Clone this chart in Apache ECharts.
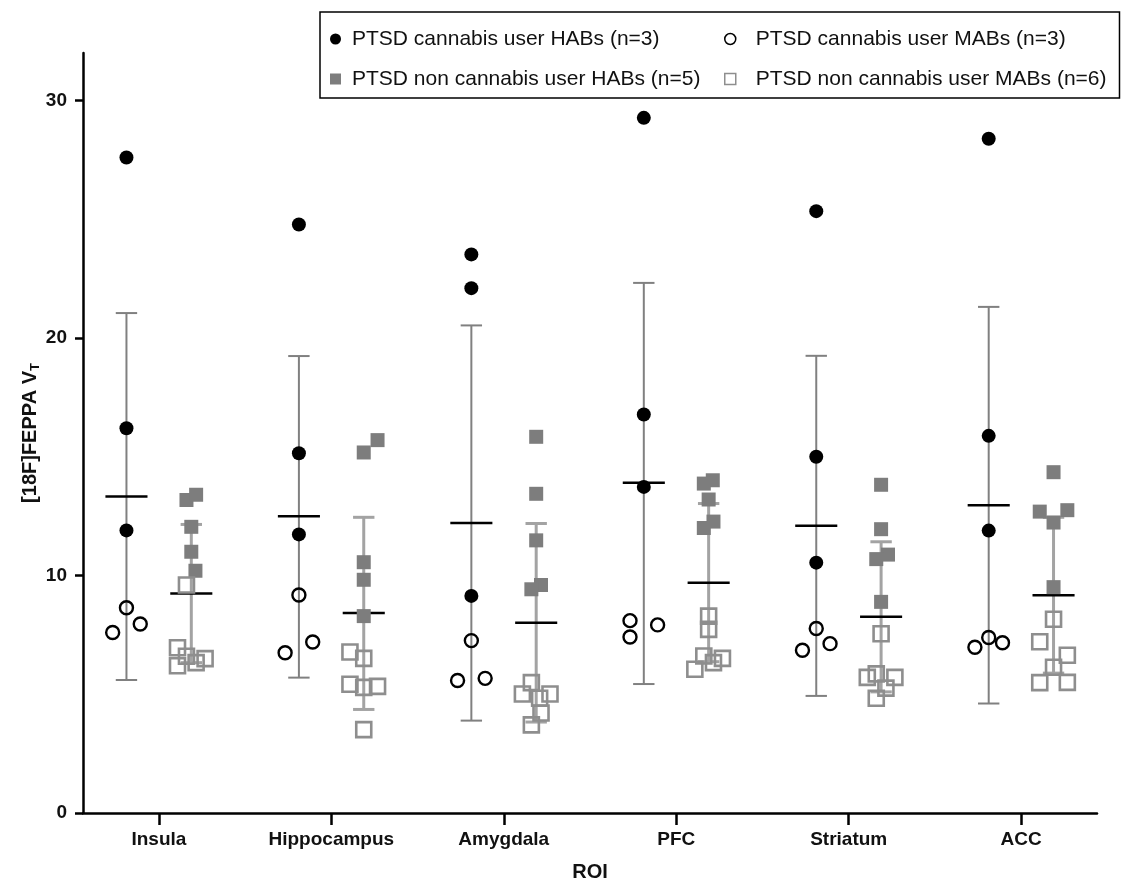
<!DOCTYPE html>
<html><head><meta charset="utf-8">
<script src="https://cdn.jsdelivr.net/npm/echarts@6/dist/echarts.min.js"></script>
<style>html,body{margin:0;padding:0;background:#fff}#c{width:1126px;height:881px}</style>
</head><body><div id="c"></div>
<script>
// ---------- data ----------
const categories = ['Insula', 'Hippocampus', 'Amygdala', 'PFC', 'Striatum', 'ACC'];
const yTicks = [0, 10, 20, 30];
const seriesNames = [
  'PTSD cannabis user HABs (n=3)',
  'PTSD cannabis user MABs (n=3)',
  'PTSD non cannabis user HABs (n=5)',
  'PTSD non cannabis user MABs (n=6)'
];
const cannabisHABs = [
  [27.6, 16.2, 11.9],
  [24.78, 15.15, 11.73],
  [23.52, 22.1, 9.14],
  [29.27, 16.78, 13.73],
  [25.34, 15.0, 10.54],
  [28.39, 15.88, 11.89]
];
const cannabisMABs = [
  [8.64, 7.96, 7.6],
  [9.18, 7.2, 6.75],
  [7.26, 5.58, 5.67],
  [8.1, 7.41, 7.92],
  [7.77, 7.13, 6.85],
  [7.39, 7.17, 6.98]
];
const nonCannabisHABs = [
  [13.18, 13.4, 12.05, 11.0, 10.2],
  [15.18, 15.7, 10.56, 9.82, 8.29],
  [15.84, 13.44, 11.48, 9.6, 9.42],
  [14.01, 13.87, 13.2, 12.27, 12.0],
  [13.82, 11.95, 10.88, 10.69, 8.89],
  [14.35, 12.69, 12.75, 12.23, 9.51]
];
const nonCannabisMABs = [
  [9.6, 6.96, 6.6, 6.5, 6.33, 6.2],
  [6.78, 6.51, 5.42, 5.29, 5.33, 3.51],
  [5.49, 5.01, 5.01, 4.83, 4.21, 3.71],
  [8.29, 7.73, 6.61, 6.51, 6.33, 6.05],
  [7.55, 5.86, 5.71, 5.71, 5.26, 4.83],
  [8.16, 7.21, 6.64, 6.14, 5.49, 5.5]
];
const cannabisMean  = [13.33, 12.49, 12.21, 13.91, 12.10, 12.96];
const cannabisUpper = [21.05, 19.24, 20.53, 22.32, 19.25, 21.31];
const cannabisLower = [5.60, 5.70, 3.89, 5.43, 4.93, 4.61];
const nonCannabisMean  = [9.24, 8.42, 8.01, 9.70, 8.26, 9.17];
const nonCannabisUpper = [12.15, 12.45, 12.19, 13.03, 11.42, 12.45];
const nonCannabisLower = [6.33, 4.36, 3.83, 6.37, 5.10, 5.89];

// ---------- layout (horizontal scatter spread, in marker-width slots) ----------
const slotsCannabisHABs = [[0,0,0],[0,0,0],[0,0,0],[0,0,0],[0,0,0],[0,0,0]];
const slotsCannabisMABs = [[0,1,-1],[0,1,-1],[0,-1,1],[-1,-1,1],[0,1,-1],[0,1,-1]];
const slotsNonCannabisHABs = [
  [-0.35, 0.35, 0, 0, 0.3],
  [0, 1, 0, 0, 0],
  [0, 0, 0, 0.35, -0.35],
  [0.3, -0.35, 0, 0.35, -0.35],
  [0, 0, 0.5, -0.35, 0],
  [0, -1, 1, 0, 0]
];
const slotsNonCannabisMABs = [
  [-0.35, -1, -0.35, 1, 0.35, -1],
  [-1, 0, -1, 0, 1, 0],
  [-0.35, -1, 1, 0.25, 0.35, -0.35],
  [0, 0, -0.35, 1, 0.35, -1],
  [0, -0.35, -1, 1, 0.35, -0.35],
  [0, -1, 1, 0, -1, 1]
];
const groupOffset = 0.188;
const jitterStep = 0.08;
const capHalf = 0.062;
const meanHalf = 0.122;
const FONT = '"Liberation Sans", Arial, Helvetica, sans-serif';

function points(vals, slots, side) {
  const out = [];
  vals.forEach((arr, i) => arr.forEach((v, j) => {
    out.push([i + side * groupOffset + slots[i][j] * jitterStep, v]);
  }));
  return out;
}
function barRows(mean, lower, upper, side) {
  return mean.map((m, i) => [i + side * groupOffset, m, lower[i], upper[i]]);
}
function errorRender(color, width) {
  return function (params, api) {
    const x = api.value(0), m = api.value(1), lo = api.value(2), hi = api.value(3);
    const t = api.coord([x, hi]), b = api.coord([x, lo]);
    const tl = api.coord([x - capHalf, hi]), tr = api.coord([x + capHalf, hi]);
    const bl = api.coord([x - capHalf, lo]), br = api.coord([x + capHalf, lo]);
    const ml = api.coord([x - meanHalf, m]), mr = api.coord([x + meanHalf, m]);
    const st = { stroke: color, lineWidth: width };
    return {
      type: 'group',
      children: [
        { type: 'line', shape: { x1: t[0], y1: t[1], x2: b[0], y2: b[1] }, style: st },
        { type: 'line', shape: { x1: tl[0], y1: tl[1], x2: tr[0], y2: tr[1] }, style: st },
        { type: 'line', shape: { x1: bl[0], y1: bl[1], x2: br[0], y2: br[1] }, style: st },
        { type: 'line', shape: { x1: ml[0], y1: ml[1], x2: mr[0], y2: mr[1] }, style: { stroke: '#000', lineWidth: 2.5 } }
      ]
    };
  };
}

const chart = echarts.init(document.getElementById('c'), null, { renderer: 'canvas' });
const catIdx = categories.map((c, i) => i);
const col1Text = { width: 364, padding: [0, 0, 0, 6] };
const col2Text = { width: 344, padding: [0, 0, 0, 15] };

chart.setOption({
  animation: false,
  backgroundColor: '#fff',
  textStyle: { fontFamily: FONT },
  grid: { left: 83, right: 29, top: 53, bottom: 68, containLabel: false, outerBoundsMode: 'none' },
  legend: {
    left: 320, top: 12, width: 790,
    orient: 'horizontal',
    padding: [11, 13, 3, 10],
    itemGap: 8, itemWidth: 11, itemHeight: 11,
    borderColor: '#000', borderWidth: 1.5,
    selectedMode: false,
    textStyle: { fontSize: 21, color: '#111', lineHeight: 32, fontFamily: FONT },
    data: [
      { name: seriesNames[0], textStyle: col1Text },
      { name: seriesNames[1], textStyle: col2Text, itemStyle: { borderWidth: 1.5 } },
      { name: seriesNames[2], textStyle: col1Text },
      { name: seriesNames[3], textStyle: col2Text, itemStyle: { borderWidth: 1.5 } }
    ]
  },
  xAxis: {
    type: 'value', min: -0.44, max: 5.44,
    splitLine: { show: false },
    axisLine: { show: true, onZero: false, lineStyle: { color: '#000', width: 2.5 } },
    axisTick: { show: true, customValues: catIdx, length: 12, lineStyle: { color: '#000', width: 2.5 } },
    axisLabel: {
      customValues: catIdx, margin: 17,
      formatter: v => categories[Math.round(v)],
      color: '#111', fontSize: 19, fontWeight: 'bold', fontFamily: FONT
    },
    name: 'ROI', nameLocation: 'middle', nameGap: 49,
    nameTextStyle: { color: '#111', fontSize: 20, fontWeight: 'bold', fontFamily: FONT }
  },
  yAxis: {
    type: 'value', min: 0, max: 32,
    splitLine: { show: false },
    axisLine: { show: true, onZero: false, lineStyle: { color: '#000', width: 2.5 } },
    axisTick: { show: true, customValues: yTicks, length: 8, lineStyle: { color: '#000', width: 2.5 } },
    axisLabel: { customValues: yTicks, margin: 16, color: '#111', fontSize: 19, fontWeight: 'bold', fontFamily: FONT },
    name: '{a|[18F]FEPPA V}{b|T}', nameLocation: 'middle', nameGap: 41, nameMoveOverlap: false,
    nameTextStyle: {
      rich: {
        a: { fontSize: 20, fontWeight: 'bold', color: '#111', lineHeight: 24, fontFamily: FONT },
        b: { fontSize: 13, fontWeight: 'bold', color: '#111', lineHeight: 13, verticalAlign: 'bottom', fontFamily: FONT }
      }
    }
  },
  series: [
    {
      type: 'custom', name: 'err-cannabis', z: 1, silent: true,
      renderItem: errorRender('#808080', 2),
      encode: { x: 0, y: [1, 2, 3] },
      data: barRows(cannabisMean, cannabisLower, cannabisUpper, -1)
    },
    {
      type: 'custom', name: 'err-noncannabis', z: 1, silent: true,
      renderItem: errorRender('#a3a3a3', 3),
      encode: { x: 0, y: [1, 2, 3] },
      data: barRows(nonCannabisMean, nonCannabisLower, nonCannabisUpper, 1)
    },
    {
      type: 'scatter', name: seriesNames[0], z: 3,
      symbol: 'circle', symbolSize: 14,
      itemStyle: { color: '#000', opacity: 1 },
      data: points(cannabisHABs, slotsCannabisHABs, -1)
    },
    {
      type: 'scatter', name: seriesNames[1], z: 3,
      symbol: 'circle', symbolSize: 13,
      itemStyle: { color: 'rgba(255,255,255,0)', borderColor: '#000', borderWidth: 2.4, opacity: 1 },
      data: points(cannabisMABs, slotsCannabisMABs, -1)
    },
    {
      type: 'scatter', name: seriesNames[2], z: 3,
      symbol: 'rect', symbolSize: 14,
      itemStyle: { color: '#7d7d7d', opacity: 1 },
      data: points(nonCannabisHABs, slotsNonCannabisHABs, 1)
    },
    {
      type: 'scatter', name: seriesNames[3], z: 3,
      symbol: 'rect', symbolSize: 15,
      itemStyle: { color: 'rgba(255,255,255,0)', borderColor: '#8e8e8e', borderWidth: 2.6, opacity: 1 },
      data: points(nonCannabisMABs, slotsNonCannabisMABs, 1)
    }
  ]
});
</script>
</body></html>
